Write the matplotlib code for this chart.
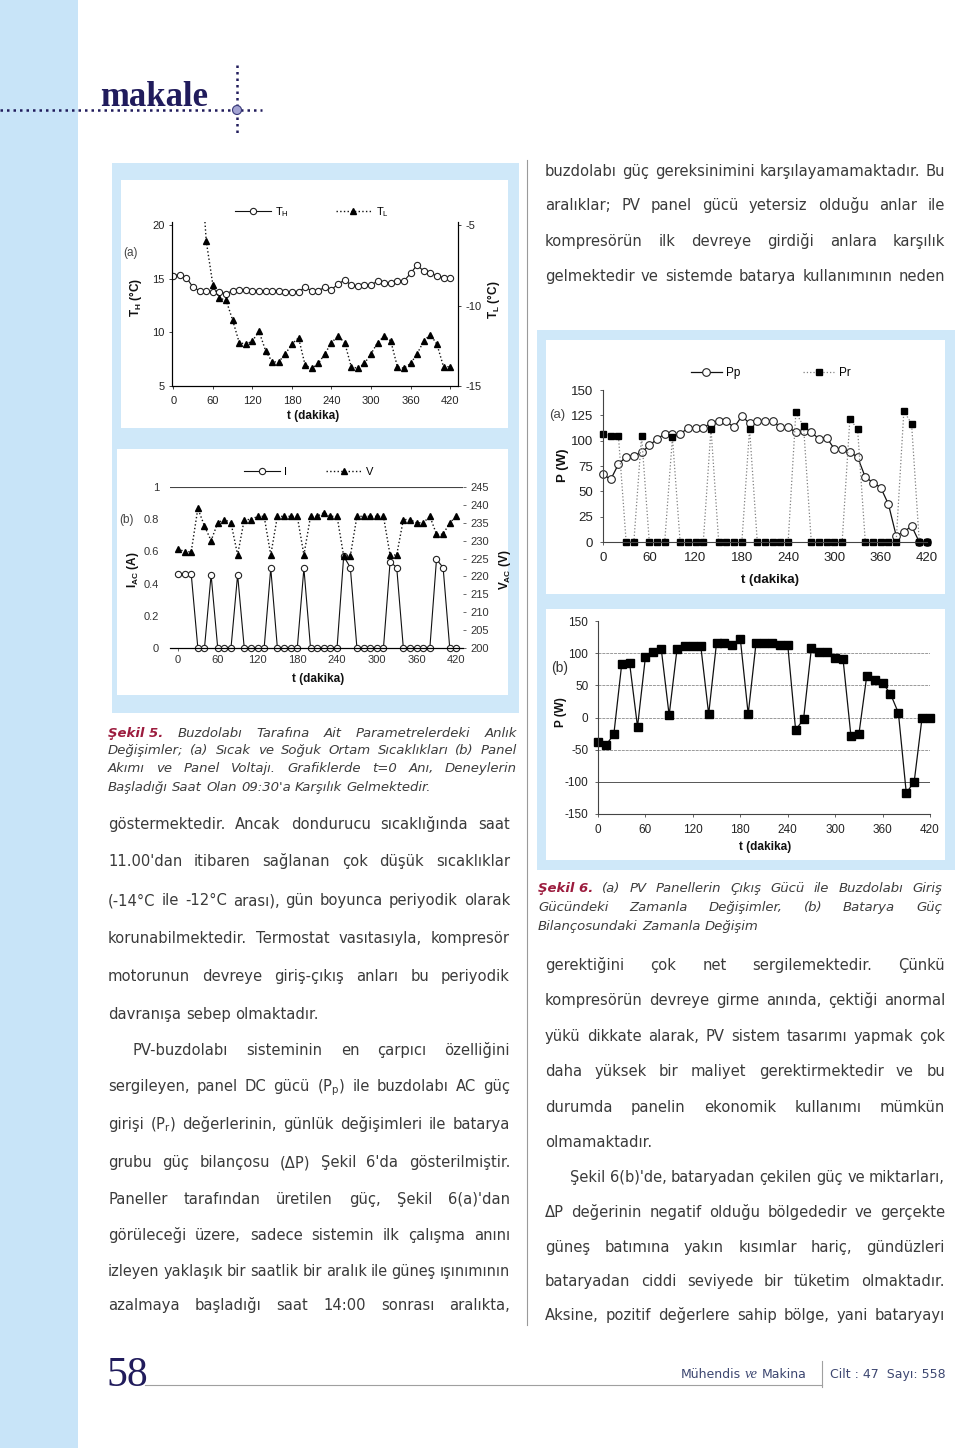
import numpy as np
import matplotlib
matplotlib.use("Agg")
import matplotlib.pyplot as plt
from matplotlib.patches import Rectangle, Circle

plt.rcParams["font.family"] = ["Liberation Sans", "DejaVu Sans"]
plt.rcParams["mathtext.default"] = "regular"
plt.rcParams["axes.unicode_minus"] = False

W, H = 960, 1448

# ---------------- veriler ----------------
t = np.arange(0, 421, 10)
t_TL = np.arange(40, 421, 10)
xticks = [0, 60, 120, 180, 240, 300, 360, 420]

TH = [15.3, 15.4, 15.1, 14.2, 13.9, 13.9, 13.8, 13.8, 13.6, 13.9, 14.0, 14.0, 13.9, 13.9,
      13.9, 13.9, 13.9, 13.8, 13.8, 13.8, 14.2, 13.9, 13.9, 14.2, 14.0, 14.5, 14.9, 14.4,
      14.3, 14.4, 14.4, 14.8, 14.6, 14.6, 14.8, 14.8, 15.5, 16.3, 15.7, 15.5, 15.3, 15.1, 15.1]
TL = [0, -6.0, -8.7, -9.55, -9.65, -10.9, -12.3, -12.4, -12.2, -11.6, -12.8, -13.5, -13.5,
      -13.0, -12.4, -12.0, -13.7, -13.9, -13.6, -13.0, -12.3, -11.9, -12.3, -13.8, -13.9,
      -13.6, -13.0, -12.3, -11.9, -12.2, -13.8, -13.9, -13.6, -13.0, -12.2, -11.8, -12.4,
      -13.8, -13.8]

I_ac = [0.46, 0.46, 0.46, 0, 0, 0.455, 0, 0, 0, 0.455, 0, 0, 0, 0, 0.495, 0, 0, 0, 0, 0.495,
        0, 0, 0, 0, 0, 0.57, 0.50, 0, 0, 0, 0, 0, 0.535, 0.50, 0, 0, 0, 0, 0, 0.55, 0.50, 0, 0]
V_ac = [227.8, 226.9, 226.9, 239.0, 234.1, 230.0, 235.0, 235.9, 235.0, 226.0,
        235.9, 235.9, 236.8, 236.8, 226.0, 236.8, 236.8, 236.8, 236.8, 226.0,
        236.8, 236.8, 237.8, 236.8, 236.8, 225.7, 225.7, 236.8, 236.8, 236.8,
        236.8, 236.8, 226.0, 226.0, 235.9, 235.9, 235.0, 235.0, 236.8, 231.8,
        231.8, 235.0, 236.8]

Pp = [66.9, 61.7, 76.8, 84.1, 85.1, 88.4, 95.3, 101.5, 106.8, 106.5,
      106.5, 112.4, 112.4, 112.4, 117.7, 119, 119, 113, 124.3, 117,
      119, 119, 119, 113.4, 113.4, 108.1, 109.1, 108.1, 101.9, 102.9,
      91.7, 91.7, 89, 83.7, 64, 58.7, 53.7, 37.3, 6.3, 9.9, 15.8, 0, 0]
Pr = [106.5, 104.8, 104.8, 0, 0, 104.8, 0, 0, 0, 103.2, 0, 0, 0, 0, 111.8, 0, 0, 0, 0, 111.8,
      0, 0, 0, 0, 0, 127.9, 114.1, 0, 0, 0, 0, 0, 121, 111.8, 0, 0, 0, 0, 0, 129.2, 116.7, 0, 0]
dP = [-37.8, -42.9, -26.4, 82.8, 84.3, -14.5, 94.2, 101.4, 106.6, 3.6,
      106.6, 111.2, 111.2, 111.2, 5.2, 116.4, 116.4, 113.3, 122.6, 5.2,
      116.4, 116.4, 116.4, 113.3, 113.3, -19.1, -3.1, 108.1, 101.4, 101.4,
      92.1, 90.5, -29, -26.4, 64.7, 58.5, 53.8, 36.7, 7.2, -117.4, -99.8, 0, 0]

# ---------------- metinler ----------------
cap5 = ["Şekil 5. Buzdolabı Tarafına Ait Parametrelerdeki Anlık",
        "Değişimler; (a) Sıcak ve Soğuk Ortam Sıcaklıkları (b) Panel",
        "Akımı ve Panel Voltajı. Grafiklerde t=0 Anı, Deneylerin",
        "Başladığı Saat Olan 09:30'a Karşılık Gelmektedir."]
cap5_y = [733, 750, 768, 787]

cap6 = ["Şekil 6. (a) PV Panellerin Çıkış Gücü ile Buzdolabı Giriş",
        "Gücündeki Zamanla Değişimler, (b) Batarya Güç",
        "Bilançosundaki Zamanla Değişim"]
cap6_y = [888, 907, 926]

left_lines = ["göstermektedir. Ancak dondurucu sıcaklığında saat",
              "11.00'dan itibaren sağlanan çok düşük sıcaklıklar",
              "(-14°C ile -12°C arası), gün boyunca periyodik olarak",
              "korunabilmektedir. Termostat vasıtasıyla, kompresör",
              "motorunun devreye giriş-çıkış anları bu periyodik",
              "davranışa sebep olmaktadır.",
              "PV-buzdolabı sisteminin en çarpıcı özelliğini",
              "sergileyen, panel DC gücü (P$_p$) ile buzdolabı AC güç",
              "girişi (P$_r$) değerlerinin, günlük değişimleri ile batarya",
              "grubu güç bilançosu (ΔP) Şekil 6'da gösterilmiştir.",
              "Paneller tarafından üretilen güç, Şekil 6(a)'dan",
              "görüleceği üzere, sadece sistemin ilk çalışma anını",
              "izleyen yaklaşık bir saatlik bir aralık ile güneş ışınımının",
              "azalmaya başladığı saat 14:00 sonrası aralıkta,"]
left_y = [825, 862, 901, 939, 977, 1015, 1051, 1087, 1125, 1163, 1200, 1236, 1272, 1306]

right_top = ["buzdolabı güç gereksinimini karşılayamamaktadır. Bu",
             "aralıklar; PV panel gücü yetersiz olduğu anlar ile",
             "kompresörün ilk devreye girdiği anlara karşılık",
             "gelmektedir ve sistemde batarya kullanımının neden"]
right_top_y = [172, 206, 242, 277]

right_lines = ["gerektiğini çok net sergilemektedir. Çünkü",
               "kompresörün devreye girme anında, çektiği anormal",
               "yükü dikkate alarak, PV sistem tasarımı yapmak çok",
               "daha yüksek bir maliyet gerektirmektedir ve bu",
               "durumda panelin ekonomik kullanımı mümkün",
               "olmamaktadır.",
               "Şekil 6(b)'de, bataryadan çekilen güç ve miktarları,",
               "ΔP değerinin negatif olduğu bölgededir ve gerçekte",
               "güneş batımına yakın kısımlar hariç, gündüzleri",
               "bataryadan ciddi seviyede bir tüketim olmaktadır.",
               "Aksine, pozitif değerlere sahip bölge, yani bataryayı"]
right_y = [966, 1001, 1037, 1072, 1108, 1143, 1178, 1213, 1248, 1282, 1316]

TXT = ["DejaVu Sans"]
body = dict(family=TXT, color="#3a3a3a", fontsize=10.6)
ital = dict(family=TXT, color="#3d3d3d", fontsize=9.5, style="italic")
head = dict(family=TXT, color="#9c1c3e", fontsize=9.5, style="italic", weight="bold")
BLUE = "#c8e4f8"
NAVY = "#211c5c"

fig = plt.figure(figsize=(W / 100, H / 100), dpi=100)
page = fig.add_axes([0, 0, 1, 1])
page.set_xlim(0, W)
page.set_ylim(H, 0)
page.axis("off")
renderer = fig.canvas.get_renderer()


def rect(x0, y0, x1, y1, color, z=0):
    page.add_patch(Rectangle((x0, y0), x1 - x0, y1 - y0, color=color, lw=0, zorder=z))


def line(x0, x1, y, parts, justify=True):
    """Kelimeleri tek tek yerleştirir; justify=True ise satırı iki yana yaslar."""
    objs = [page.text(0, y, w, va="baseline", ha="left", zorder=5, **st) for w, st in parts]
    widths = [o.get_window_extent(renderer).width for o in objs]
    n = len(objs)
    min_gap = 4
    if justify and n > 1 and sum(widths) + (n - 1) * min_gap > x1 - x0:
        f = (x1 - x0 - (n - 1) * min_gap) / sum(widths)
        for o in objs:
            o.set_fontsize(o.get_fontsize() * f)
        widths = [o.get_window_extent(renderer).width for o in objs]
    if justify and n > 1:
        gap = (x1 - x0 - sum(widths)) / (n - 1)
    else:
        gap = parts[0][1]["fontsize"] * 100 / 72 * 0.32
    x = x0
    for o, w in zip(objs, widths):
        o.set_x(x)
        x += w + gap


def paragraph(lines, ys, x0, x1, style, last=(), indent=(), first_style=None, nfirst=0):
    for i, (s, y) in enumerate(zip(lines, ys)):
        words = s.split(" ")
        parts = []
        if i == 0 and nfirst:
            parts.append((" ".join(words[:nfirst]), first_style))
            words = words[nfirst:]
        parts += [(w, style) for w in words]
        xs = x0 + (25 if i in indent else 0)
        line(xs, x1, y + 4, parts, justify=i not in last)


# ---------------- sayfa süsleri ----------------
rect(0, 0, 78, H, BLUE)
rect(112, 163, 519, 713, "#cfe8f9")
rect(121, 180, 508, 428, "white", 1)
rect(117, 449, 508, 695, "white", 1)
rect(537, 330, 955, 870, "#cfe8f9")
rect(546, 340, 945, 594, "white", 1)
rect(546, 609, 945, 860, "white", 1)
page.plot([527, 527], [160, 1325], color="#9a9a9a", lw=0.8)

page.plot([0, 262], [110, 110], color=NAVY, lw=1.8, ls=(0, (1, 1.6)))
page.plot([237, 237], [65, 134], color=NAVY, lw=1.8, ls=(0, (1, 1.6)))
page.add_patch(Circle((237, 110), 4.5, facecolor="#a3a3d2", edgecolor="#3a3a7a", lw=0.8, zorder=3))
page.text(100, 106, "makale", family="Liberation Serif", weight="bold", fontsize=25,
          color=NAVY, va="baseline")

# alt bilgi
page.text(106, 1386, "58", family="Liberation Serif", fontsize=30, color=NAVY, va="baseline")
page.plot([145, 822], [1385, 1385], color="#a0a0a0", lw=0.8)
page.plot([822, 822], [1361, 1387], color="#a0a0a0", lw=0.8)
foot = dict(family=TXT, color="#3c4670", fontsize=9)
line(681, 815, 1378, [("Mühendis", foot),
                      ("ve", dict(family="Liberation Serif", style="italic", color="#3c4670", fontsize=10.5)),
                      ("Makina", foot)], justify=False)
page.text(830, 1378, "Cilt : 47  Sayı: 558", va="baseline", **foot)

# ---------------- metin blokları ----------------
paragraph(cap5, cap5_y, 108, 517, ital, last={3}, first_style=head, nfirst=2)
paragraph(cap6, cap6_y, 538, 942, ital, last={2}, first_style=head, nfirst=2)
paragraph(left_lines, left_y, 108, 510, body, last={5}, indent={6})
paragraph(right_top, right_top_y, 545, 945, body)
paragraph(right_lines, right_y, 545, 945, body, last={5}, indent={6})


def add_ax(x0, y0, x1, y1):
    ax = fig.add_axes([x0 / W, 1 - y1 / H, (x1 - x0) / W, (y1 - y0) / H])
    ax.set_facecolor("none")
    return ax


def ptext(x, y, s, **kw):
    page.text(x, y, s, ha="center", va="center", zorder=6, **kw)


lbl = dict(fontsize=8.5, weight="bold", color="#111111")

# ---------------- Şekil 5 (a) ----------------
ax = add_ax(172, 222, 458, 386)
l1, = ax.plot(t, TH, "-o", color="#111", lw=0.8, ms=4.5, mfc="white", mec="#222", mew=0.8)
ax.set_xlim(-2, 432)
ax.set_ylim(5, 20.3)
ax.set_xticks(xticks)
ax.set_yticks([5, 10, 15, 20])
ax2 = ax.twinx()
l2, = ax2.plot(t_TL, TL, ":", color="#111", lw=1.0, marker="^", ms=5, mfc="k", mec="k")
ax2.set_ylim(-15, -4.8)
ax2.set_yticks([-15, -10, -5])
for a in (ax, ax2):
    a.spines["top"].set_visible(False)
    for s in a.spines.values():
        s.set_linewidth(0.8)
    a.tick_params(labelsize=8, length=2.5, width=0.6, pad=3, colors="#222")
ax.tick_params(axis="x", pad=5)
fig.legend([l1, l2], ["T$_H$", "T$_L$"], loc="center left", bbox_to_anchor=(235 / W, 1 - 212 / H),
           ncol=2, frameon=False, fontsize=8, handlelength=3.2, columnspacing=4.2,
           handletextpad=0.4, borderpad=0, borderaxespad=0)
ptext(130, 253, "(a)", fontsize=8.5, color="#444")
ptext(135, 297, "T$_H$ (°C)", rotation=90, **lbl)
ptext(494, 300, "T$_L$ (°C)", rotation=90, **lbl)
ptext(313, 416, "t (dakika)", **lbl)

# ---------------- Şekil 5 (b) ----------------
ax = add_ax(170, 487, 463, 648)
l1, = ax.plot(t, I_ac, "-o", color="#111", lw=0.8, ms=4.5, mfc="white", mec="#222", mew=0.8,
              clip_on=False)
ax.set_xlim(-12, 430)
ax.set_ylim(0, 1)
ax.set_xticks(xticks)
ax.set_yticks([0, 0.2, 0.4, 0.6, 0.8, 1])
ax.set_yticklabels(["0", "0.2", "0.4", "0.6", "0.8", "1"])
ax.axhline(1, color="#444", lw=0.8)
ax2 = ax.twinx()
l2, = ax2.plot(t, V_ac, ":", color="#111", lw=1.0, marker="^", ms=5, mfc="k", mec="k")
ax2.set_ylim(200, 245)
ax2.set_yticks(np.arange(200, 246, 5))
for a in (ax, ax2):
    for k in ("top", "left", "right"):
        a.spines[k].set_visible(False)
    a.spines["bottom"].set_linewidth(0.8)
    a.tick_params(labelsize=8, length=2, width=0.5, pad=3, colors="#333")
ax.tick_params(axis="y", length=0, pad=8)
fig.legend([l1, l2], ["I", "V"], loc="center left", bbox_to_anchor=(244 / W, 1 - 472 / H),
           ncol=2, frameon=False, fontsize=8, handlelength=3.2, columnspacing=3.5,
           handletextpad=0.4, borderpad=0, borderaxespad=0)
ptext(127, 520, "(b)", fontsize=8.5, color="#444")
ptext(133, 570, "I$_{AC}$ (A)", rotation=90, **lbl)
ptext(505, 570, "V$_{AC}$ (V)", rotation=90, **lbl)
ptext(318, 679, "t (dakika)", **lbl)

# ---------------- Şekil 6 (a) ----------------
ax = add_ax(603, 390, 927, 542)
l1, = ax.plot(t, Pp, "-o", color="#111", lw=0.9, ms=5.5, mfc="white", mec="#222", mew=0.8,
              clip_on=False)
l2, = ax.plot(t, Pr, color="#808080", ls=":", lw=0.9, marker="s", ms=5, mfc="k", mec="k",
              clip_on=False)
ax.set_xlim(0, 420)
ax.set_ylim(0, 150)
ax.set_xticks(xticks)
ax.set_yticks(np.arange(0, 151, 25))
for k in ("top", "right"):
    ax.spines[k].set_visible(False)
for k in ("left", "bottom"):
    ax.spines[k].set_linewidth(0.8)
    ax.spines[k].set_color("#444")
ax.tick_params(labelsize=9.5, length=2, width=0.5, pad=5, colors="#222")
fig.legend([l1, l2], ["Pp", "Pr"], loc="center left", bbox_to_anchor=(691 / W, 1 - 373 / H),
           ncol=2, frameon=False, fontsize=8.5, handlelength=2.6, columnspacing=5.3,
           handletextpad=0.4, borderpad=0, borderaxespad=0)
ptext(557, 415, "(a)", fontsize=9.5, color="#444")
ptext(563, 465, "P (W)", rotation=90, fontsize=9.5, weight="bold", color="#111")
ptext(770, 580, "t (dakika)", fontsize=9.5, weight="bold", color="#111")

# ---------------- Şekil 6 (b) ----------------
ax = add_ax(598, 621, 930, 814)
ax.set_xlim(0, 420)
ax.set_ylim(-150, 150)
ax.set_xticks(xticks)
ax.set_yticks(np.arange(-150, 151, 50))
ax.grid(axis="y", color="#9a9a9a", lw=0.7, ls=(0, (3, 1)))
grid = ax.get_ygridlines()
grid[1].set_color("#555555")
grid[1].set_linestyle("-")
grid[-1].set_visible(False)
ax.set_axisbelow(True)
ax.plot(t, dP, "-s", color="#111", lw=0.9, ms=5.5, mfc="k", mec="k", clip_on=False)
for k in ("top", "right"):
    ax.spines[k].set_visible(False)
for k in ("left", "bottom"):
    ax.spines[k].set_linewidth(0.8)
    ax.spines[k].set_color("#444")
ax.tick_params(labelsize=8.5, length=2, width=0.5, pad=5, colors="#222")
ptext(560, 668, "(b)", fontsize=10, color="#333")
ptext(561, 712, "P (W)", rotation=90, fontsize=8.5, weight="bold", color="#111")
ptext(765, 847, "t (dakika)", fontsize=8.5, weight="bold", color="#111")

fig.savefig("out.png", dpi=100)
